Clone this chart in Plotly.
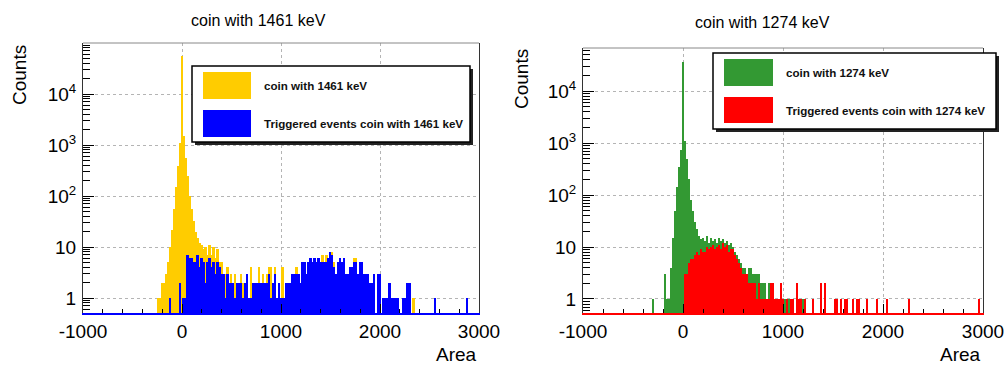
import plotly.graph_objects as go

W, H = 1005, 365

# ---------------- data (counts per 20-unit bin) ----------------
bin_width = 20
left_first_center = -300
right_first_center = -300

left_title = "coin with 1461 keV"
right_title = "coin with 1274 keV"
left_names = ["coin with 1461 keV", "Triggered events coin with 1461 keV"]
right_names = ["coin with 1274 keV", "Triggered events coin with 1274 keV"]

x_tick_vals = [-1000, 0, 1000, 2000, 3000]
x_tick_text = ["-1000", "0", "1000", "2000", "3000"]
y_tick_vals = [1, 10, 100, 1000, 10000]
y_tick_text = ["1", "10", "10<sup>2</sup>", "10<sup>3</sup>", "10<sup>4</sup>"]

left_total = [
    0, 0, 0, 1, 1, 2, 2, 3, 5, 10,
    22, 55, 150, 380, 1100, 55000, 1500, 550, 250, 100,
    55, 32, 20, 15, 12, 11, 9, 10, 7, 11,
    7, 10, 6, 9, 5, 5, 3, 3, 4, 2,
    3, 2, 3, 2, 2, 3, 2, 2, 3, 1,
    4, 2, 2, 2, 4, 2, 3, 2, 3, 4,
    4, 2, 4, 1, 2, 1, 4, 1, 2, 2,
    2, 3, 3, 4, 3, 2, 5, 5, 3, 5,
    6, 5, 6, 5, 6, 5, 7, 5, 7, 6,
    8, 8, 5, 3, 5, 6, 5, 6, 3, 3,
    4, 4, 6, 6, 3, 5, 5, 3, 3, 3,
    2, 2, 3, 0, 3, 3, 0, 1, 1, 1,
    2, 1, 1, 1, 1, 0, 0, 1, 1, 2,
    2, 0, 1, 0, 0, 0, 0, 0, 0, 0,
    0, 0, 0, 1, 0, 0, 0, 0, 0, 0,
    0, 0, 0, 0, 0, 0, 0, 0, 0, 1,
]
left_trig = [
    0, 0, 0, 0, 0, 0, 0, 0, 0, 1,
    0, 0, 0, 0, 2, 0, 1, 1, 7, 6,
    6, 5, 5, 7, 4, 6, 5, 2, 5, 6,
    4, 5, 3, 5, 4, 3, 3, 1, 3, 2,
    2, 2, 1, 2, 2, 2, 1, 2, 3, 1,
    1, 2, 2, 2, 2, 2, 2, 2, 2, 3,
    1, 2, 3, 1, 2, 1, 1, 1, 2, 2,
    2, 3, 3, 3, 3, 2, 5, 5, 3, 5,
    6, 5, 6, 5, 6, 5, 5, 5, 5, 6,
    8, 7, 4, 3, 5, 6, 5, 6, 3, 3,
    4, 4, 5, 5, 3, 5, 5, 3, 3, 3,
    2, 2, 3, 0, 3, 3, 0, 1, 1, 1,
    2, 1, 1, 1, 1, 0, 0, 1, 1, 2,
    2, 0, 0, 0, 0, 0, 0, 0, 0, 0,
    0, 0, 0, 1, 0, 0, 0, 0, 0, 0,
    0, 0, 0, 0, 0, 0, 0, 0, 0, 1,
]

right_total = [
    1, 0, 0, 0, 0, 0, 3, 1, 1, 4,
    15, 50, 140, 350, 750, 36000, 1100, 500, 200, 80,
    50, 30, 22, 16, 14, 15, 13, 16, 12, 15,
    13, 14, 12, 15, 13, 14, 12, 13, 11, 12,
    10, 8, 7, 6, 5, 4, 4, 3, 4, 4,
    3, 3, 3, 3, 2, 2, 2, 1, 2, 2,
    2, 1, 1, 1, 2, 1, 1, 1, 1, 1,
    1, 0, 2, 1, 1, 1, 1, 0, 0, 0,
    1, 0, 0, 0, 2, 0, 2, 0, 0, 0,
    0, 1, 1, 0, 1, 0, 1, 1, 0, 0,
    1, 0, 1, 1, 0, 0, 0, 1, 0, 0,
    0, 0, 1, 0, 0, 0, 0, 1, 0, 0,
    0, 0, 0, 0, 0, 0, 0, 0, 1, 0,
    0, 0, 0, 0, 0, 0, 0, 0, 0, 0,
    0, 0, 0, 0, 0, 0, 0, 0, 0, 0,
    0, 0, 0, 0, 0, 0, 0, 0, 0, 0,
    0, 0, 0, 1, 0,
]
right_trig = [
    0, 0, 0, 0, 0, 0, 0, 0, 0, 0,
    0, 0, 0, 0, 0, 0, 3, 3, 5, 6,
    6, 7, 8, 7, 9, 8, 8, 10, 9, 10,
    11, 9, 10, 11, 9, 12, 10, 11, 8, 9,
    9, 7, 6, 5, 4, 3, 3, 3, 2, 2,
    2, 2, 1, 2, 1, 1, 1, 1, 1, 2,
    2, 1, 1, 1, 2, 1, 0, 1, 0, 1,
    1, 0, 2, 1, 1, 0, 1, 0, 0, 0,
    1, 0, 0, 0, 2, 0, 2, 0, 0, 0,
    0, 1, 1, 0, 1, 0, 1, 1, 0, 0,
    1, 0, 1, 1, 0, 0, 0, 1, 0, 0,
    0, 0, 1, 0, 0, 0, 0, 1, 0, 0,
    0, 0, 0, 0, 0, 0, 0, 0, 1, 0,
    0, 0, 0, 0, 0, 0, 0, 0, 0, 0,
    0, 0, 0, 0, 0, 0, 0, 0, 0, 0,
    0, 0, 0, 0, 0, 0, 0, 0, 0, 0,
    0, 0, 0, 1, 0,
]

# ---------------- styling ----------------
YELLOW = "#FFCC00"
BLUE = "#0000FF"
GREEN = "#339933"
RED = "#FF0000"
FONT = "Liberation Sans, Arial, sans-serif"
GRID = "#b4b4b4"


def px(x):
    return x / W


def py(y):
    return 1 - y / H


def centers(first, n):
    return [first + bin_width * i for i in range(n)]


def nz(vals):
    return [v if v > 0 else None for v in vals]


fig = go.Figure()
lc = centers(left_first_center, len(left_total))
rc = centers(right_first_center, len(right_total))
for xs, ys, col, name, xa, ya in [
    (lc, left_total, YELLOW, left_names[0], "x", "y"),
    (lc, left_trig, BLUE, left_names[1], "x", "y"),
    (rc, right_total, GREEN, right_names[0], "x2", "y2"),
    (rc, right_trig, RED, right_names[1], "x2", "y2"),
]:
    fig.add_trace(go.Bar(x=xs, y=nz(ys), width=bin_width, name=name,
                         marker=dict(color=col, line=dict(width=0)),
                         xaxis=xa, yaxis=ya, showlegend=False))

minor_y = [m * 10 ** d for d in range(-1, 5) for m in range(2, 10)]


def xaxis(domain, linecol, anchor):
    return dict(domain=domain, range=[-1000, 3000], tickvals=x_tick_vals,
                ticktext=x_tick_text, ticks="inside", ticklen=9, tickwidth=1,
                tickcolor="black",
                minor=dict(ticks="inside", ticklen=4, dtick=200, tickcolor="black",
                           showgrid=False),
                showgrid=True, gridcolor=GRID, griddash="dot", gridwidth=1,
                showline=True, linecolor=linecol, linewidth=2, mirror=False,
                zeroline=False, tickfont=dict(family=FONT, size=19, color="black"),
                anchor=anchor, fixedrange=True, automargin=False)


def yaxis(domain, rng, anchor):
    return dict(domain=domain, type="log", range=rng, tickvals=y_tick_vals,
                ticktext=y_tick_text, ticks="inside", ticklen=11, tickwidth=1,
                tickcolor="black",
                minor=dict(ticks="inside", ticklen=7, tickvals=minor_y,
                           tickcolor="black", showgrid=False),
                showgrid=True, gridcolor=GRID, griddash="dot", gridwidth=1,
                showline=True, linecolor="#333333", linewidth=1, mirror=True,
                zeroline=False, tickfont=dict(family=FONT, size=19, color="black"),
                ticklabelstandoff=2, anchor=anchor, fixedrange=True,
                automargin=False)


fig.update_layout(
    width=W, height=H, autosize=False, margin=dict(l=0, r=0, t=0, b=0, pad=0),
    paper_bgcolor="white", plot_bgcolor="white",
    barmode="overlay", bargap=0,
    xaxis=xaxis([px(83), px(479)], BLUE, "y"),
    yaxis=yaxis([py(313), py(43)], [-0.294, 5.0], "x"),
    xaxis2=xaxis([px(583), px(983)], RED, "y2"),
    yaxis2=yaxis([py(313), py(48)], [-0.27, 4.83], "x2"),
)

shapes = []
annotations = []

# top frame lines
for xd, yd in [("x domain", "y domain"), ("x2 domain", "y2 domain")]:
    shapes.append(dict(type="line", xref=xd, yref=yd, x0=0, x1=1, y0=1, y1=1,
                       line=dict(color="#888888", width=1)))

# titles and axis titles
for txt, cx, cy in [(left_title, 258, 20), (right_title, 762, 23)]:
    annotations.append(dict(text=txt, x=px(cx), y=py(cy), xref="paper", yref="paper",
                            showarrow=False, xanchor="center", yanchor="middle",
                            font=dict(family=FONT, size=16, color="black")))
for cx, cy in [(20, 75), (521, 79)]:
    annotations.append(dict(text="Counts", x=px(cx), y=py(cy), xref="paper", yref="paper",
                            showarrow=False, textangle=-90, xanchor="center",
                            yanchor="middle",
                            font=dict(family=FONT, size=19, color="black")))
for rx in [479, 983]:
    annotations.append(dict(text="Area", x=px(rx), y=py(354), xref="paper", yref="paper",
                            showarrow=False, xanchor="right", yanchor="middle",
                            font=dict(family=FONT, size=19, color="black")))

# legends
def legend(x0, y0, x1, y1, sw_x0, sw_x1, rows, text_x):
    shapes.append(dict(type="rect", xref="paper", yref="paper",
                       x0=px(x0 + 3), x1=px(x1 + 3), y0=py(y1 + 3), y1=py(y0 + 3),
                       fillcolor="#222222", line=dict(width=0)))
    shapes.append(dict(type="rect", xref="paper", yref="paper",
                       x0=px(x0), x1=px(x1), y0=py(y1), y1=py(y0),
                       fillcolor="white", line=dict(color="black", width=1.5)))
    for (ry0, ry1, col, name) in rows:
        shapes.append(dict(type="rect", xref="paper", yref="paper",
                           x0=px(sw_x0), x1=px(sw_x1), y0=py(ry1), y1=py(ry0),
                           fillcolor=col, line=dict(width=0)))
        annotations.append(dict(text="<b>%s</b>" % name, x=px(text_x),
                                y=py((ry0 + ry1) / 2), xref="paper", yref="paper",
                                showarrow=False, xanchor="left", yanchor="middle",
                                font=dict(family=FONT, size=11.6, color="#111111")))


legend(192, 66, 470, 142, 203, 251,
       [(72, 99, YELLOW, left_names[0]), (110, 137, BLUE, left_names[1])], 262)
legend(713, 53, 996, 129, 724, 773,
       [(59, 86, GREEN, right_names[0]), (97, 123, RED, right_names[1])], 784)

fig.update_layout(shapes=shapes, annotations=annotations)
fig.write_html("out.html", config={"displayModeBar": False},
               post_script="document.body.style.margin='0';"
                           "document.body.style.overflow='hidden';")
